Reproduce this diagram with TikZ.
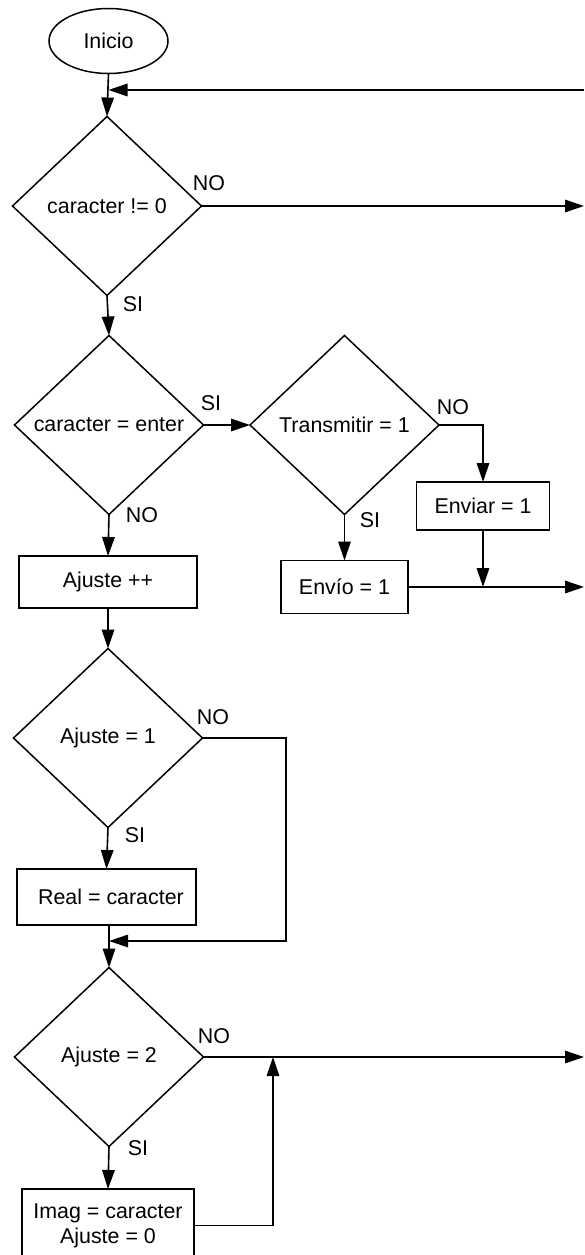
\documentclass[tikz,border=0pt]{standalone}
\usepackage{fontspec}
\setmainfont{Liberation Sans}
\usetikzlibrary{shapes.geometric,arrows.meta}
\begin{document}
\begin{tikzpicture}[x=1pt,y=-1pt,
  every node/.style={font=\fontsize{21.4}{25}\selectfont, inner sep=0pt, outer sep=0pt},
  terminal/.style={draw, line width=1.5pt, ellipse, minimum width=119pt, minimum height=65pt},
  decision/.style={draw, line width=1.5pt, diamond, aspect=1, minimum width=189pt, minimum height=179pt},
  process/.style={draw, line width=1.5pt, rectangle},
  flow/.style={line width=1.6pt, -{Triangle[length=19pt,width=12.5pt]}},
  link/.style={line width=1.6pt}]
\useasboundingbox (0,0) rectangle (584,1255);
\clip (0,0) rectangle (584,1255);

% shapes
\node[terminal] (ini) at (108.5,41) {Inicio};
\node[decision] (d1) at (107,206) {caracter != 0};
\node[decision] (d2) at (109,425) {caracter = enter};
\node[decision] (d3) at (344.5,425) {Transmitir = 1};
\node[process, minimum width=133pt, minimum height=48pt] (enviar) at (483,506) {Enviar = 1};
\node[process, minimum width=127pt, minimum height=53pt] (envio) at (344.5,587) {Envío = 1};
\node[process, minimum width=178pt, minimum height=52pt] (ajpp) at (108,582) {Ajuste ++};
\node[decision] (d4) at (108,738) {Ajuste = 1};
\node[process, minimum width=179pt, minimum height=56pt] (real) at (106.5,897) {\hspace*{9pt}Real = caracter};
\node[decision] (d5) at (109,1057) {Ajuste = 2};
\node[process, minimum width=172pt, minimum height=73pt, align=center] (imag) at (108,1225.5) {Imag = caracter\\Ajuste = 0};

% free ends on the right margin
\coordinate (back) at (584,90);
\coordinate (out1) at (584,206);
\coordinate (out2) at (584,587);
\coordinate (out3) at (584,1057);
\coordinate (m0) at (ini.south |- back);
\coordinate (m2) at (enviar.south |- envio.east);
\coordinate (m3) at (273,1057);

% connectors
\draw[flow] (ini.south) -- (d1.north);
\draw[flow] (back) -- (m0);
\draw[flow] (d1.east) -- (out1);
\draw[flow] (d1.south) -- (d2.north);
\draw[flow] (d2.east) -- (d3.west);
\draw[flow] (d3.east) -| (enviar.north);
\draw[flow] (d3.south) -- (envio.north);
\draw[flow] (enviar.south) -- (m2);
\draw[flow] (envio.east) -- (out2);
\draw[flow] (d2.south) -- (ajpp.north);
\draw[flow] (ajpp.south) -- (d4.north);
\draw[flow] (d4.east) -- (286,738) -- (286,941) -- (109,941);
\draw[flow] (d4.south) -- (real.north);
\draw[flow] (real.south -| 109,0) -- (d5.north);
\draw[flow] (d5.east) -- (out3);
\draw[flow] (d5.south) -- (imag.north);
\draw[flow] (imag.east) -| (m3);

% branch labels
\node at (209,183) {NO};
\node at (133,304) {SI};
\node at (211,403) {SI};
\node at (453,407) {NO};
\node at (370,520) {SI};
\node at (142,515) {NO};
\node at (213,717) {NO};
\node at (135,835) {SI};
\node at (214,1036) {NO};
\node at (138,1148) {SI};
\end{tikzpicture}
\end{document}
